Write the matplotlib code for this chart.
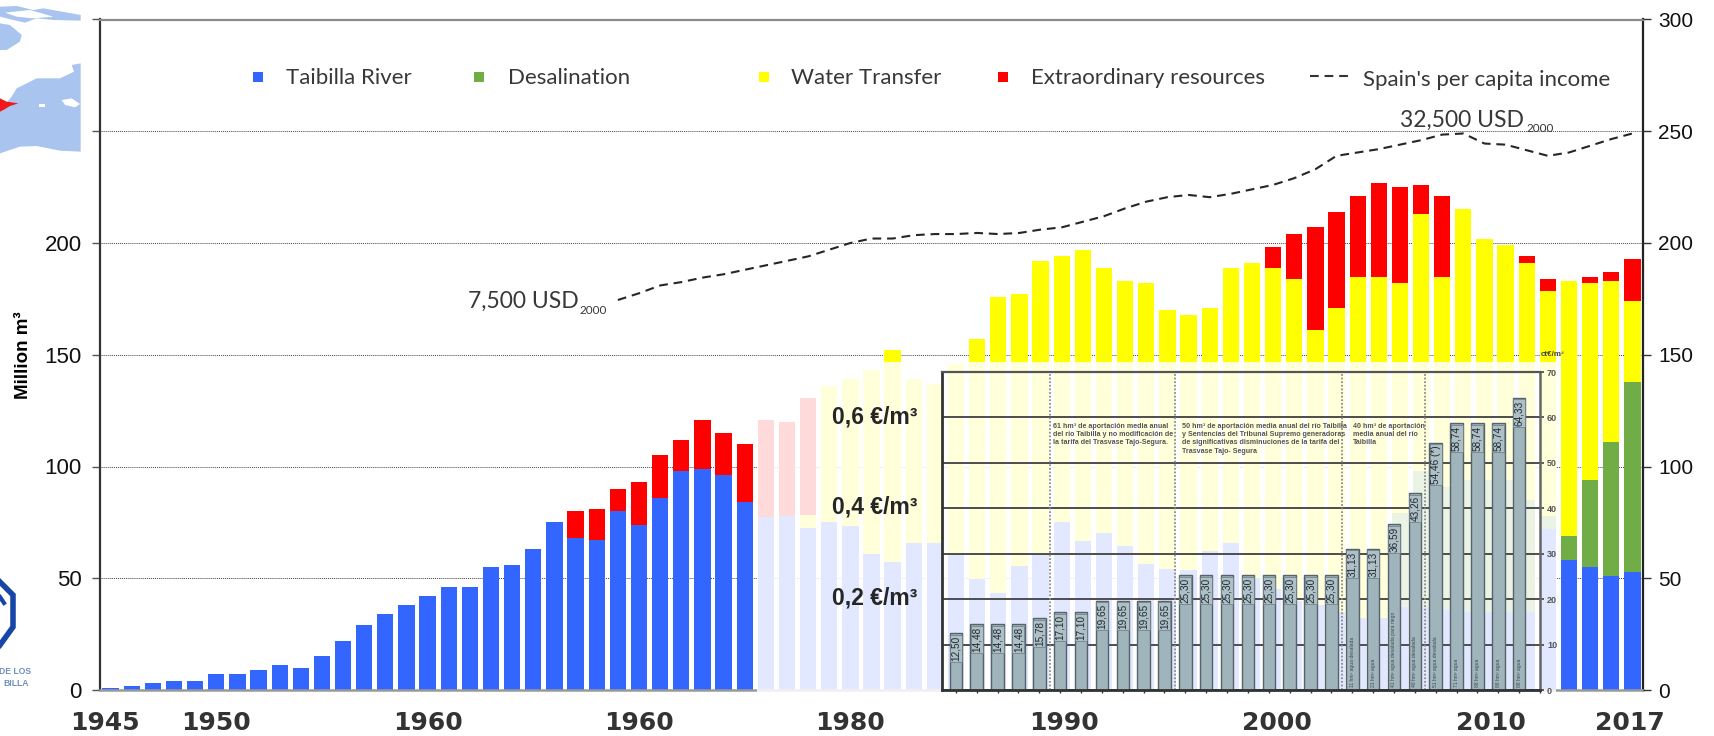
import matplotlib
matplotlib.use("Agg")
import matplotlib.pyplot as plt
from matplotlib.patches import Polygon, Rectangle

W, H = 1715, 736

years = list(range(1945, 2018))
taibilla = [1, 2, 3, 4, 4, 7, 7, 9, 11, 10, 15,
            22, 29, 34, 38, 42, 46, 46, 55, 56, 63,
            75, 68, 67, 80, 74, 86, 98, 99, 96, 84,
            77.5, 77.8, 72.3, 75.3, 73.3, 60.8, 57.4, 65.6, 65.6, 60.4,
            49.5, 43.2, 55.4, 61, 75.3, 66.6, 70.3, 64.5, 56.3, 54.1,
            53.7, 62, 65.6, 50, 45, 40, 38, 35, 32, 32,
            37, 37, 36, 35, 35, 35, 35, 72, 58, 55, 51, 53]
desalination = [0] * 61 + [42, 61, 55, 59, 59, 59, 50, 6, 11, 39, 60, 85]
transfer = [0] * 33 + [6.2, 60.7, 65.7, 82.2, 94.6, 73.4, 71.4, 85.6,
                       107.5, 132.8, 121.6, 131, 118.7, 130.4, 118.7, 118.5, 125.7, 115.9,
                       114.3, 109, 123.4, 141, 144, 144, 123, 136, 153, 153,
                       103, 115, 94, 121, 108, 105, 106, 100.4, 114, 88, 72, 36]
extraordinary = [0] * 22 + [12, 14, 10, 19, 19, 14, 22, 19, 26, 43.2, 41.9, 52.2] + [0] * 21 + \
                [9, 20, 46, 43, 36, 42, 43, 13, 36, 0, 0, 0, 3, 5.6, 0, 3, 4, 19]

income_years = list(range(1969, 2018))
income = [174.5, 177.5, 181, 182.5, 184.5, 186, 188, 190, 192, 194, 197, 200, 202, 202, 203.5,
          204, 204, 204.5, 204, 204.5, 206, 207, 209.5, 212, 215.5, 218.5, 220.5, 221.5, 220.5,
          222, 224, 226, 229, 233, 239, 240.5, 242, 244, 246, 248.5, 249, 244.5, 244, 241.5,
          239, 240.5, 243.5, 246.5, 249]

xtick_years = [1944.75, 1950, 1960, 1970, 1980, 1990.1, 2000.2, 2010.3, 2016.9]
xtick_labels = ["1945", "1950", "1960", "1960", "1980", "1990", "2000", "2010", "2017"]

tariff_years = list(range(1985, 2013))
tariff = [12.50, 14.48, 14.48, 14.48, 15.78, 17.10, 17.10, 19.65, 19.65, 19.65, 19.65,
          25.30, 25.30, 25.30, 25.30, 25.30, 25.30, 25.30, 25.30,
          31.13, 31.13, 36.59, 43.26, 54.46, 58.74, 58.74, 58.74, 64.33]
period_breaks = [1989.5, 1995.5, 2003.5, 2007.5]
price_labels = ["0,6 €/m³", "0,4 €/m³", "0,2 €/m³"]

BLUE, GREEN, YEL, RED = "#3366ff", "#70ad47", "#ffff00", "#ff0000"
plt.rcParams["font.family"] = ["Liberation Sans", "DejaVu Sans"]
LEG = ["Lato", "DejaVu Sans"]

fig = plt.figure(figsize=(W / 100, H / 100), dpi=100, facecolor="white")


def rect(x0, y0, x1, y1):
    """axes rectangle from reference pixel edges (y measured from the top)"""
    return [x0 / W, 1 - y1 / H, (x1 - x0) / W, (y1 - y0) / H]


AX_L, AX_R, AX_T, AX_B = 100, 1643, 19.5, 690
ax = fig.add_axes(rect(AX_L, AX_T, AX_R, AX_B), zorder=1)
ax.set_xlim(1944.5, 2017.5)
ax.set_ylim(0, 300)
pxyr = (AX_R - AX_L) / 73


def px_to_year(x):
    return 1944.5 + (x - AX_L) / pxyr


ax.set_axisbelow(True)
ax.yaxis.grid(True, color="#444444", lw=0.7, ls=(0, (1, 1)))
w = 0.77
b = [0.0] * 73
for vals, col in ((taibilla, BLUE), (desalination, GREEN), (transfer, YEL), (extraordinary, RED)):
    ax.bar(years, vals, width=w, bottom=b, color=col, linewidth=0)
    b = [p + q for p, q in zip(b, vals)]
ax.plot(income_years, income, color="#262626", lw=1.5, ls=(0, (4.2, 2.8)))

ax.set_yticks(range(0, 301, 50))
ax.set_yticklabels(["0", "50", "100", "150", "200", "", ""], fontsize=16, color="#111111")
ax.set_xticks(xtick_years)
ax.set_xticklabels(xtick_labels, fontsize=18, fontweight="bold", color="#333333",
                   fontfamily="DejaVu Sans")
ax.tick_params(axis="x", length=0, pad=15)
ax.tick_params(axis="y", length=6, width=1, color="#555555", pad=7)
ax.spines["top"].set(color="#8a8a8a", lw=1.6)
ax.spines["bottom"].set(color="#999999", lw=1.8)
ax.spines["left"].set(color="#333333", lw=1.6)
ax.spines["right"].set(color="#222222", lw=1.6)
ax.set_ylabel("Million m³", fontsize=13.5, fontweight="bold", labelpad=0, color="black")
ax.yaxis.set_label_coords((32 - AX_L) / (AX_R - AX_L), 0.5, transform=ax.transAxes)

axr = ax.twinx()
axr.set_ylim(0, 300)
axr.set_yticks(range(0, 301, 50))
axr.tick_params(axis="y", labelsize=15, length=6, width=1, pad=5, labelcolor="#111111", color="#333333")
for s in axr.spines.values():
    s.set_visible(False)

# faded white sheet carrying the inset chart
wash = fig.add_axes(rect(757, 362, 1556, 692), zorder=2)
wash.set_facecolor((1, 1, 1, 0.86))
wash.set_xticks([])
wash.set_yticks([])
for s in wash.spines.values():
    s.set_visible(False)

IN_L, IN_R, IN_T, IN_B = 942, 1540, 372, 690
inn = fig.add_axes(rect(IN_L, IN_T, IN_R, IN_B), zorder=3)
inn.patch.set_alpha(0)
inn.set_xlim(px_to_year(IN_L), px_to_year(IN_R))
inn.set_ylim(0, 70)
inn.set_axisbelow(True)
inn.yaxis.grid(True, color="#4d4d4d", lw=1.4)
inn.bar(tariff_years, tariff, width=0.6, color="#a0b4bc", edgecolor="#56636a", linewidth=1.0)
for y, v in zip(tariff_years, tariff):
    lab = f"{v:.2f}".replace(".", ",") + (" (*)" if y == 2008 else "")
    inn.text(y, v - 0.6, lab, rotation=90, ha="center", va="top", fontsize=7.2, color="#1f2a30",
             bbox=dict(boxstyle="square,pad=0.1", fc="#aebfc6", ec="#6a7a82", lw=0.5))
for y in period_breaks:
    inn.axvline(y, color="#8c8c8c", lw=1.3, ls=(0, (1, 1)))
notes = {2004: "11 hm³ agua desalada", 2005: "21 hm³ agua",
         2006: "41 hm³ agua desalada para riego", 2007: "48 hm³ agua desalada",
         2008: "51 hm³ agua desalada", 2009: "71 hm³ agua", 2010: "88 hm³ agua",
         2011: "88 hm³ agua", 2012: "88 hm³ agua"}
for y, s in notes.items():
    inn.text(y, 0.6, s, rotation=90, ha="center", va="bottom", fontsize=3.6, color="#3c4a50")
inn.set_xticks(range(1985, 2014))
inn.set_xticklabels([])
inn.set_yticks(range(0, 71, 10))
inn.yaxis.tick_right()
inn.tick_params(axis="y", labelsize=6.5, length=3, width=1.2, color="#444444", labelcolor="#555555", pad=2)
inn.tick_params(axis="x", length=2, width=1, color="#333333")
for lab in inn.get_yticklabels():
    lab.set_fontweight("bold")
inn.spines["left"].set(color="#333333", lw=2)
inn.spines["bottom"].set(color="#333333", lw=2)
inn.spines["top"].set(color="#555555", lw=1.6)
inn.spines["right"].set(color="#666666", lw=1.8)

# overlay in reference pixel coordinates: legend, notes, map and logo
ov = fig.add_axes([0, 0, 1, 1], zorder=4)
ov.set_xlim(0, W)
ov.set_ylim(H, 0)
ov.axis("off")
ov.patch.set_alpha(0)

DG = "#383838"
for sx, tx, col, s in ((258, 286, BLUE, "Taibilla River"), (479, 508, GREEN, "Desalination"),
                       (764, 791, YEL, "Water Transfer"), (1003, 1031, RED, "Extraordinary resources")):
    ov.add_patch(Rectangle((sx - 5, 72), 10, 10, color=col, lw=0))
    ov.text(tx, 78.5, s, family=LEG, fontsize=16, color=DG, va="center")
ov.plot([1310, 1348], [76, 76], color="#333333", lw=1.5, ls=(0, (4.2, 2.8)))
ov.text(1363, 79.5, "Spain's per capita income", family=LEG, fontsize=16, color=DG, va="center")

ov.text(468, 301, "7,500 USD", family=LEG, fontsize=16.5, color=DG, va="center")
ov.text(580, 310, "2000", family=LEG, fontsize=8.5, color=DG, va="center")
ov.text(1400, 120, "32,500 USD", family=LEG, fontsize=16.5, color=DG, va="center")
ov.text(1527, 129, "2000", family=LEG, fontsize=8.5, color=DG, va="center")

for (lab, y) in zip(price_labels, (417, 507, 598)):
    ov.text(832, y, lab, fontsize=16.5, fontweight="bold", color="#262626", va="center")

for nx, note in ((1053, "61 hm³ de aportación media anual\ndel río Taibilla y no modificación de\nla tarifa del Trasvase Tajo-Segura."),
                 (1182, "50 hm³ de aportación media anual del río Taibilla\ny Sentencias del Tribunal Supremo generadoras\nde significativas disminuciones de la tarifa del\nTrasvase Tajo- Segura"),
                 (1353, "40 hm³ de aportación\nmedia anual del río\nTaibilla")):
    ov.text(nx, 423, note, fontsize=5.1, fontweight="bold", color="#555555", va="top", linespacing=1.25)
ov.text(1541, 354, "ct€/m³", fontsize=5.8, fontweight="bold", color="#444444", va="center")

# map fragment (reference zoom coordinates / 3)
MAP = "#a9c4ee"
def mp(pts, col):
    ov.add_patch(Polygon([(x / 3, y / 3) for x, y in pts], closed=True, color=col, lw=0))

mp([(0, 20), (50, 18), (100, 30), (130, 25), (242, 45), (242, 62), (160, 60), (110, 55),
    (75, 68), (40, 60), (0, 50)], MAP)
mp([(15, 38), (90, 30), (160, 50), (100, 55), (50, 50)], "white")
mp([(0, 70), (30, 75), (65, 105), (60, 125), (20, 150), (0, 150)], MAP)
mp([(242, 190), (215, 195), (222, 215), (180, 235), (110, 235), (50, 265), (35, 290), (0, 330),
    (0, 460), (60, 440), (110, 438), (180, 452), (242, 455)], MAP)
mp([(185, 300), (215, 295), (240, 312), (225, 322), (195, 315)], "white")
mp([(118, 313), (135, 313), (135, 320), (118, 320)], "white")
mp([(0, 295), (20, 305), (55, 310), (30, 318), (10, 330), (0, 335)], "#f01818")

# logo fragment
ov.plot([0, 13, 13, 0], [582, 595, 627, 645], color="#1746a8", lw=4, solid_joinstyle="miter")
ov.plot([0, 4], [597, 603], color="#1746a8", lw=3)
ov.text(31, 672, "DE LOS", fontsize=6.2, fontweight="bold", color="#7090bd", ha="right", va="center")
ov.text(29, 683, "BILLA", fontsize=6.2, fontweight="bold", color="#7090bd", ha="right", va="center")

fig.savefig("out.png", dpi=100, facecolor="white")
